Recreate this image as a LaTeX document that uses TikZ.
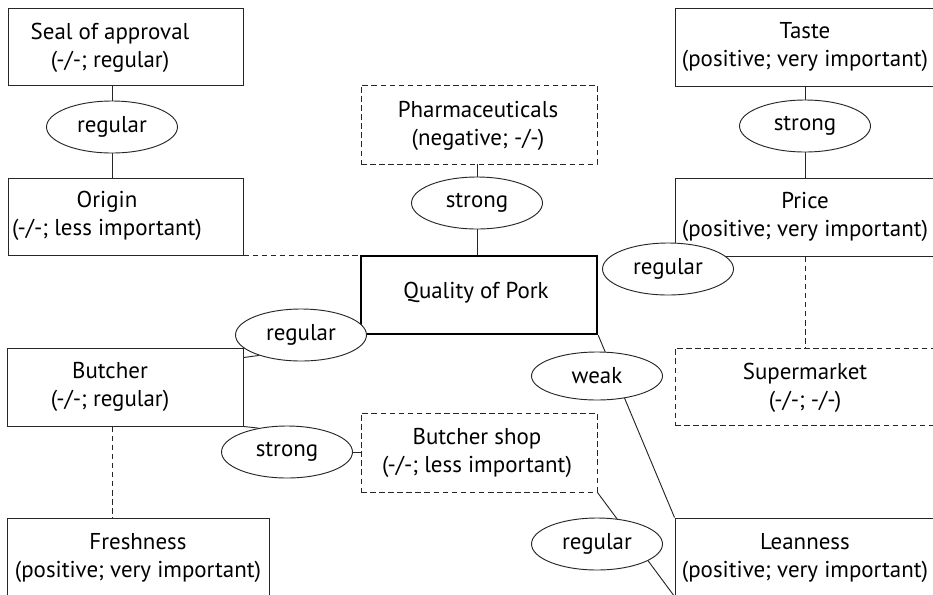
\documentclass[tikz,border=0pt]{standalone}
\usepackage{fontspec}
\setmainfont{PT Sans}
\usetikzlibrary{shapes.geometric}
\pgfdeclarelayer{background}
\pgfsetlayers{background,main}

\tikzset{
  every node/.style={font=\fontsize{17.2pt}{20.8pt}\selectfont, text=black},
  cbox/.style={draw=black!85, line width=0.7pt, fill=white, inner sep=0pt},
  dbox/.style={cbox, dashed, dash pattern=on 4.2pt off 2.6pt},
  corebox/.style={cbox, draw=black, line width=1.8pt},
  txt/.style={align=center, inner sep=0pt},
  rel/.style={ellipse, draw=black!85, line width=0.7pt, fill=white, inner sep=0pt,
              minimum width=98.25pt, minimum height=39pt},
  link/.style={draw=black!85, line width=0.7pt},
  dlink/.style={link, dash pattern=on 4.2pt off 2.6pt},
}

\begin{document}
\begin{tikzpicture}[x=0.75pt, y=-0.75pt]
\useasboundingbox (0,0) rectangle (933,594);
\clip (0,0) rectangle (933,594);

% attribute boxes
\node[cbox, minimum width=176.25pt, minimum height=57.75pt] (seal)   at (125.5,46.5) {};
\node[cbox, minimum width=176.25pt, minimum height=57.75pt] (origin) at (125.5,216.5) {};
\node[cbox, minimum width=177pt,    minimum height=58.5pt]  (butcher) at (125,387) {};
\node[cbox, minimum width=196.5pt,  minimum height=58.5pt]  (fresh)  at (138,557) {};
\node[dbox, minimum width=177pt,    minimum height=59.25pt] (pharma) at (479,124.5) {};
\node[corebox, minimum width=177pt, minimum height=58.5pt]  (quality) at (479,295) {};
\node[dbox, minimum width=177pt,    minimum height=59.25pt] (shop)   at (479,452.5) {};
\node[cbox, minimum width=195pt,    minimum height=58.5pt]  (taste)  at (805,47) {};
\node[cbox, minimum width=195pt,    minimum height=58.5pt]  (price)  at (805,217) {};
\node[dbox, minimum width=195pt,    minimum height=57.75pt] (market) at (805,386.5) {};
\node[cbox, minimum width=195pt,    minimum height=58.5pt]  (lean)   at (805,557) {};

% box texts
\node[txt] (sealT)    at (110,48)  {Seal of approval\\(-/-; regular)};
\node[txt] (originT)  at (107,216) {Origin\\(-/-; less important)};
\node[txt] (butcherT) at (110,387) {Butcher\\(-/-; regular)};
\node[txt] (freshT)   at (138,558) {Freshness\\(positive; very important)};
\node[txt] (pharmaT)  at (478,126) {Pharmaceuticals\\(negative; -/-)};
\node[txt] (qualityT) at (476,293) {Quality of Pork};
\node[txt] (shopT)    at (477,453) {Butcher shop\\(-/-; less important)};
\node[txt] (tasteT)   at (805,47)  {Taste\\(positive; very important)};
\node[txt] (priceT)   at (805,217) {Price\\(positive; very important)};
\node[txt] (marketT)  at (805,388) {Supermarket\\(-/-; -/-)};
\node[txt] (leanT)    at (805,558) {Leanness\\(positive; very important)};

% relation strengths
\node[rel] (e1) at (112,127) {regular};
\node[rel] (e2) at (477,203) {strong};
\node[rel] (e3) at (805,126) {strong};
\node[rel] (e4) at (668,269) {regular};
\node[rel] (e5) at (301,335) {regular};
\node[rel, minimum height=36pt] (e6) at (597,376) {weak};
\node[rel] (e7) at (287,452) {strong};
\node[rel] (e8) at (597,544) {regular};

% connectors
\begin{pgfonlayer}{background}
  \draw[link] (e1.north |- seal.south) -- (e1.north);
  \draw[link] (e1.south) -- (e1.south |- origin.north);
  \draw[dlink] (origin.south east) -- (origin.south east -| quality.west);
  \draw[link] (e2.north |- pharma.south) -- (e2.north);
  \draw[link] (e2.south) -- (e2.south |- quality.north);
  \draw[link] (taste.south) -- (e3.north);
  \draw[link] (e3.south) -- (price.north);
  \draw[dlink] (price.south) -- (market.north);
  \coordinate (bfoot) at ([xshift=-9.75pt]butcher.south);
  \draw[dlink] (bfoot) -- (bfoot |- fresh.north);
  \coordinate (bside) at ([yshift=-7.5pt]butcher.north east);
  \draw[link] (bside) -- (e5.206);
  \draw[link] (butcher.south east) -- (e7.140);
  \draw[link] (e7.east) -- (e7.east -| shop.west);
  \draw[link] (quality.south east) -- (lean.north west);
  \draw[link] (shop.south east) -- (lean.south west);
\end{pgfonlayer}
\end{tikzpicture}
\end{document}
